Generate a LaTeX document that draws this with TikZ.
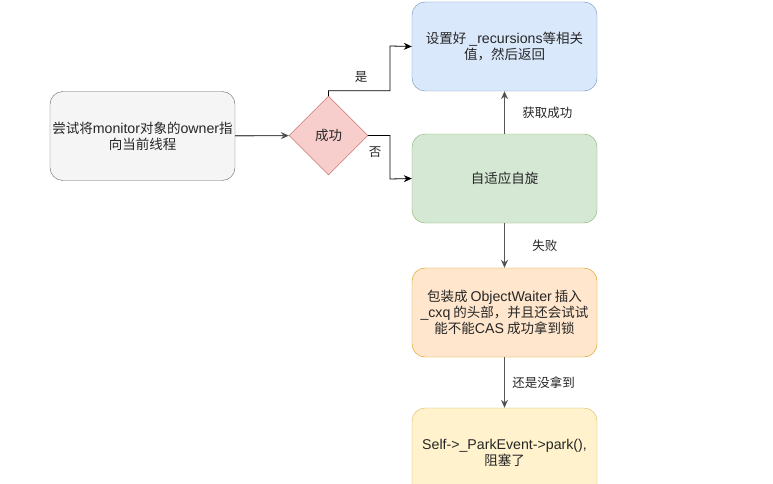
\documentclass[tikz,border=0pt]{standalone}
\usepackage{fontspec}
\setmainfont{Noto Sans CJK SC}
\newfontfamily\latinfont{Liberation Sans}[Scale=1.05]
\newcommand\en[1]{{\latinfont #1}}
\usetikzlibrary{arrows.meta, shapes.geometric}
\definecolor{greyfill} {HTML}{F5F5F5}
\definecolor{greyline} {HTML}{666666}
\definecolor{bluefill} {HTML}{DAE8FC}
\definecolor{blueline} {HTML}{6C8EBF}
\definecolor{greenfill}{HTML}{D5E8D4}
\definecolor{greenline}{HTML}{82B366}
\definecolor{orgfill}  {HTML}{FFE6CC}
\definecolor{orgline}  {HTML}{D79B00}
\definecolor{yelfill}  {HTML}{FFF2CC}
\definecolor{yelline}  {HTML}{D6B656}
\definecolor{redfill}  {HTML}{F8CECC}
\definecolor{redline}  {HTML}{B85450}
\definecolor{linkclr}  {HTML}{555555}

\begin{document}
\begin{tikzpicture}[x=1pt, y=-1pt, font=\fontsize{13.5}{16}\selectfont,
  stepbox/.style={draw, rounded corners=13, minimum width=185, minimum height=89,
    align=center, inner sep=1, text=black!85},
  decision/.style={diamond, draw=redline, fill=redfill, minimum width=79,
    minimum height=79, aspect=1, inner sep=0, text=black!85},
  link/.style={draw=linkclr, line width=1.1, -{Stealth[length=8, width=7, fill=black]}},
  elbow/.style={link, draw=black, line width=0.8},
  lbl/.style={font=\fontsize{12.5}{14}\selectfont, text=black!85}]
  \useasboundingbox (0,0) rectangle (773,484);
  \clip (0,0) rectangle (773,484);
  \fill[white] (0,0) rectangle (773,484);
  % boxes
  \node[stepbox, draw=greyline, fill=greyfill] (try) at (142.5,136)
    {尝试将\en{monitor}对象的\en{owner}指\\向当前线程};
  \node[decision] (ok) at (328.5,135.5) {成功};
  \node[stepbox, draw=blueline, fill=bluefill] (done) at (504.5,46.5)
    {设置好 \en{\_recursions}等相关\\值，然后返回};
  \node[stepbox, draw=greenline, fill=greenfill] (spin) at (504.5,178.5) {自适应自旋};
  \node[stepbox, draw=orgline, fill=orgfill] (wait) at (504.5,312.5)
    {包装成 \en{ObjectWaiter} 插入\\\en{\_cxq} 的头部，并且还会试试\\能不能\en{CAS} 成功拿到锁};
  \node[stepbox, draw=yelline, fill=yelfill] (park) at (504.5,452.5)
    {\en{Self->\_ParkEvent->park(),}\\阻塞了};
  % connectors
  \draw[link] (try) -- (ok);
  \draw[elbow] (ok.north) -- ++(0,-5) -| (390,46) -- (done.west);
  \draw[elbow] (ok.east) -| (390,179) -- (spin.west);
  \node[lbl] (yes) at (361,77) {是};
  \node[lbl] (no) at (375,152) {否};
  \draw[link] (spin) -- (done) node[lbl, midway, right=14] {获取成功};
  \draw[link] (spin) -- (wait) node[lbl, midway, right=24] {失败};
  \draw[link] (wait) -- (park) node[lbl, midway, right=4] {还是没拿到};
\end{tikzpicture}
\end{document}
